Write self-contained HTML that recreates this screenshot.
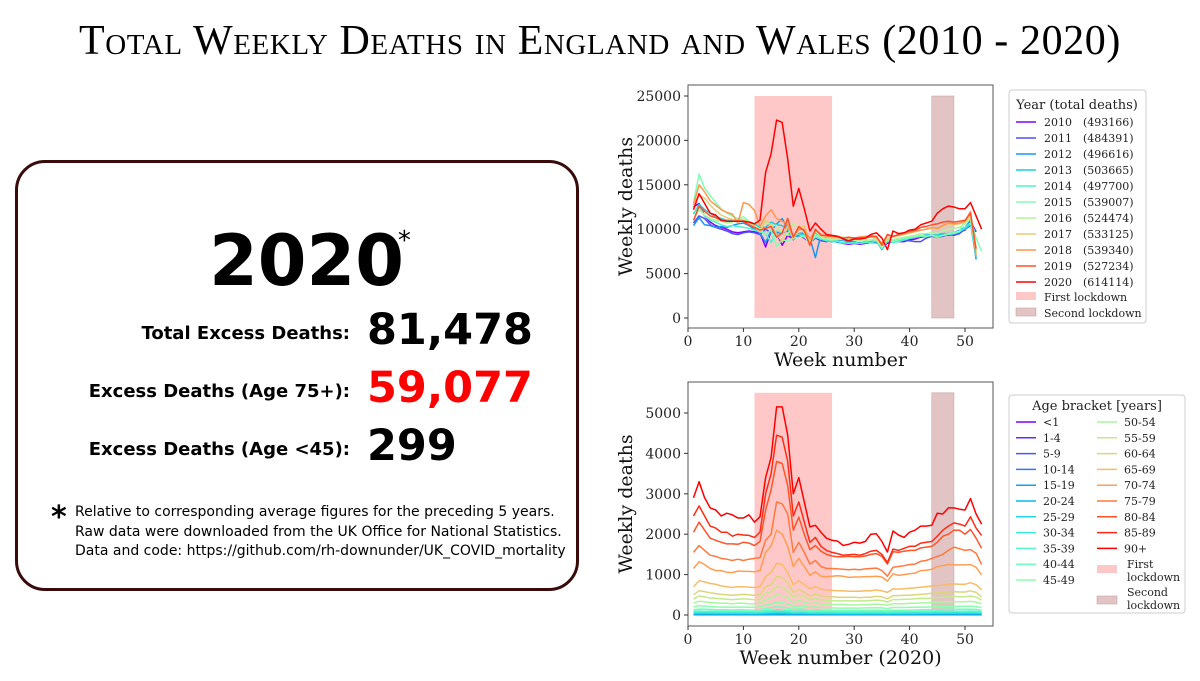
<!DOCTYPE html>
<html><head><meta charset="utf-8">
<style>
body{margin:0;background:#fff;}
#wrap{position:relative;width:1200px;height:681px;overflow:hidden;font-family:"DejaVu Sans","Liberation Sans",sans-serif;}
.title{position:absolute;left:0;top:17px;width:1200px;text-align:center;font-family:"Liberation Serif",serif;font-variant:small-caps;font-size:42px;letter-spacing:0.6px;color:#000;}
.box{position:absolute;left:15px;top:160px;width:558px;height:425px;border:3px solid #3a0b0b;border-radius:30px;}
.year{position:absolute;left:0;width:620px;text-align:center;top:220px;font-size:70px;font-weight:bold;}
.year sup{font-size:26px;font-weight:normal;vertical-align:top;position:relative;top:6px;margin-left:-6px;}
.lab{position:absolute;left:0;width:350px;text-align:right;font-size:18px;font-weight:bold;}
.num{position:absolute;left:367px;font-size:43px;font-weight:bold;}
.foot{position:absolute;left:75px;top:503px;font-size:14px;line-height:19.5px;}
.star{position:absolute;left:51px;top:500px;font-size:30px;font-weight:bold;}
svg text{font-family:"DejaVu Serif","Liberation Serif",serif;}
</style></head>
<body>
<div id="wrap">
<div class="title">Total Weekly Deaths in England and Wales (2010 - 2020)</div>
<div class="box"></div>
<div class="year">2020<sup>*</sup></div>
<div class="lab" style="top:323px">Total Excess Deaths:</div>
<div class="num" style="top:305px">81,478</div>
<div class="lab" style="top:381px">Excess Deaths (Age 75+):</div>
<div class="num" style="top:363px;color:#ff0000">59,077</div>
<div class="lab" style="top:439px">Excess Deaths (Age &lt;45):</div>
<div class="num" style="top:421px">299</div>
<div class="star">*</div>
<div class="foot">Relative to corresponding average figures for the preceding 5 years.<br>Raw data were downloaded from the UK Office for National Statistics.<br>Data and code: https://github.com/rh-downunder/UK_COVID_mortality</div>
<svg id="chart" width="1200" height="681" style="position:absolute;left:0;top:0"></svg>
</div>
<script>
// ---- top chart data (thousands of deaths per week)
const years = ["2010","2011","2012","2013","2014","2015","2016","2017","2018","2019","2020"];
const yearTotals = ["493166","484391","496616","503665","497700","539007","524474","533125","539340","527234","614114"];
const d2010=[12.5,12.9,11.5,10.8,10.4,10.2,10.0,9.7,9.6,9.7,9.8,9.7,9.6,8.0,9.8,9.5,8.2,9.3,8.9,9.3,9.0,8.5,9.0,8.8,8.7,8.8,8.6,8.4,8.3,8.4,8.3,8.4,8.5,8.5,8.1,8.4,8.6,8.6,8.6,8.8,8.9,9.1,9.2,9.3,9.2,9.4,9.3,9.5,9.7,9.9,10.9,9.7];
const d2011=[10.7,11.5,11.2,10.5,10.2,10.0,9.8,9.5,9.4,9.6,9.7,9.6,9.4,10.0,9.6,9.7,9.5,9.8,9.0,9.2,9.1,8.6,9.0,8.7,8.6,8.8,8.5,8.5,8.6,8.4,8.5,8.4,8.5,8.6,7.8,8.6,8.8,8.7,8.7,8.7,8.6,8.6,9.0,9.2,9.1,9.2,9.4,9.3,9.5,10.0,10.4,9.8];
const d2012=[10.4,11.3,10.5,10.4,10.2,10.3,10.2,10.4,10.6,10.7,10.4,10.0,9.6,8.5,9.8,10.6,11.2,10.0,8.8,9.5,9.6,9.0,6.8,9.4,9.0,8.8,8.7,8.8,8.7,8.6,8.4,8.5,8.6,8.7,7.7,8.8,8.7,8.8,8.9,9.0,9.1,9.2,9.3,9.3,9.2,9.4,9.5,9.6,9.9,10.2,11.0,6.6];
const d2013=[11.7,12.8,12.2,11.8,11.4,11.2,11.0,11.0,11.1,11.0,10.9,10.6,10.2,10.2,10.8,10.5,10.4,10.0,9.2,9.5,9.4,8.5,9.6,8.9,8.7,8.6,8.6,8.4,8.5,8.4,8.4,8.6,8.5,8.6,7.9,8.6,8.7,8.7,8.9,9.0,9.1,9.2,9.4,9.3,9.4,9.5,9.5,9.6,9.8,10.0,10.6,6.8];
const d2014=[11.8,12.6,11.5,11.0,10.8,10.5,10.3,10.4,10.3,10.2,10.1,9.9,9.7,9.5,8.5,9.8,9.6,9.3,9.4,9.4,9.1,8.6,9.1,8.9,8.7,8.7,8.6,8.5,8.4,8.5,8.4,8.5,8.5,8.7,7.8,8.7,8.5,8.6,8.8,9.0,9.1,9.2,9.2,9.3,9.2,9.3,9.4,9.5,9.7,10.2,10.7,7.5];
const d2015=[13.0,16.2,14.6,13.8,13.0,12.3,11.8,11.5,11.2,11.4,10.9,10.4,10.0,9.4,9.9,8.1,8.8,8.7,9.0,9.1,9.2,8.3,9.4,9.0,8.9,8.9,8.8,8.9,8.9,8.8,8.8,8.7,8.8,8.9,7.9,9.0,8.6,8.8,9.0,9.1,9.2,9.3,9.2,9.3,9.1,9.3,9.5,9.6,9.8,11.0,11.2,9.0,7.5];
const d2016=[11.0,12.2,11.6,11.2,11.0,10.9,10.7,10.8,11.2,11.1,10.9,10.4,9.9,10.8,10.5,10.4,9.6,9.4,10.7,10.2,9.6,8.4,9.8,9.1,8.9,8.8,8.9,9.0,9.0,8.8,8.7,8.8,8.8,8.8,8.0,8.8,8.8,9.0,9.1,9.2,9.3,9.5,9.5,9.6,9.5,9.8,10.0,10.1,10.2,10.6,11.2,7.3];
const d2017=[12.9,13.8,13.5,12.7,12.1,11.6,11.3,11.1,10.9,11.0,10.8,10.3,9.7,11.0,10.5,9.4,8.6,10.4,8.9,10.1,10.4,8.6,10.0,9.3,9.1,9.0,9.0,9.1,9.0,8.9,8.9,9.0,9.1,9.0,8.2,9.0,9.1,9.3,9.4,9.6,9.7,9.9,10.0,10.1,10.0,10.3,10.6,10.5,10.6,10.8,11.5,7.5];
const d2018=[12.7,15.0,14.2,13.2,12.7,12.2,11.9,11.7,10.7,13.0,12.8,12.1,10.3,11.5,12.2,11.2,10.9,10.5,9.2,10.0,10.0,8.9,9.9,9.4,9.2,9.2,9.1,9.0,9.1,9.0,9.1,9.2,9.2,9.1,8.4,9.3,9.2,9.3,9.5,9.6,9.8,9.9,10.0,10.2,10.1,10.4,10.7,10.6,10.7,10.9,12.0,7.0];
const d2019=[11.0,12.6,12.0,11.5,11.3,11.0,10.9,10.9,10.9,10.9,10.5,10.2,9.9,10.1,10.3,9.1,9.6,11.2,9.1,10.3,9.8,8.2,10.0,9.3,9.3,9.2,9.2,9.0,9.1,9.0,9.1,9.0,9.2,9.2,8.2,9.4,9.2,9.4,9.6,9.8,9.9,10.2,10.3,10.5,10.6,10.8,10.9,10.8,10.9,11.0,11.8,7.8];
const d2020=[12.2,14.0,12.9,11.8,11.6,11.0,10.9,10.9,10.9,10.9,10.8,10.6,11.0,16.4,18.5,22.3,22.0,17.9,12.6,14.6,12.3,9.8,10.7,10.0,9.4,9.3,9.2,8.9,8.7,8.9,8.9,9.0,9.4,9.6,9.0,7.7,9.8,9.5,9.6,9.9,10.0,10.5,10.7,10.9,11.8,12.3,12.6,12.5,12.3,12.3,13.0,11.5,10.0];
const yearSeries=[d2010,d2011,d2012,d2013,d2014,d2015,d2016,d2017,d2018,d2019,d2020];
const topYTicks=[0,5000,10000,15000,20000,25000];
const xTicks=[0,10,20,30,40,50];
const lockdown1=[12,26], lockdown2=[44,48];

// ---- bottom chart data (deaths per week, 2020)
const ageBrackets=["<1","1-4","5-9","10-14","15-19","20-24","25-29","30-34","35-39","40-44","45-49","50-54","55-59","60-64","65-69","70-74","75-79","80-84","85-89","90+"];
const aLt1=[55,58,56,55,54,54,53,53,54,53,53,52,53,52,50,51,50,50,50,51,50,49,50,49,49,49,48,48,48,48,48,48,49,50,48,46,49,49,49,50,50,50,50,51,51,52,52,52,52,52,53,51,49];
const a1=[9,10,9,9,9,9,9,8,9,9,8,8,9,9,9,10,10,9,9,9,8,8,8,8,8,8,8,8,8,8,8,8,8,9,8,8,9,9,9,9,9,9,9,9,9,9,9,9,9,9,10,9,9];
const a5=[5,5,5,5,5,5,5,5,4,5,5,5,5,5,5,5,5,5,5,5,5,4,5,4,4,4,4,4,4,4,4,4,4,5,4,4,5,5,5,5,5,5,5,5,5,5,5,5,5,5,5,5,5];
const a10=[6,7,6,6,6,6,6,6,6,6,6,6,6,6,7,7,7,6,6,6,6,6,6,6,5,5,5,5,5,5,5,5,5,6,5,5,6,6,6,6,6,6,6,6,6,6,6,6,6,6,7,6,6];
const a15=[16,18,17,17,16,16,16,16,16,16,16,16,16,17,18,19,19,18,16,17,16,15,16,15,15,15,15,15,15,15,15,15,15,16,15,14,16,16,16,16,16,16,16,17,17,17,17,17,17,17,18,17,16];
const a20=[28,31,30,29,28,28,28,27,28,28,27,27,28,31,33,36,35,33,29,30,29,27,28,27,26,26,26,26,26,26,26,26,26,27,26,24,27,27,27,28,28,28,28,29,29,30,30,30,30,30,31,30,27];
const a25=[42,46,44,43,42,41,41,40,41,41,40,40,41,48,51,56,55,50,43,46,43,39,41,39,38,38,37,37,37,37,37,38,38,39,38,35,40,40,40,40,40,41,41,42,43,44,44,44,44,44,46,44,40];
const a30=[60,66,64,62,60,59,59,58,59,59,58,58,59,70,75,84,82,74,62,66,62,56,60,56,54,54,53,53,53,53,53,54,54,56,54,50,57,57,57,58,58,59,59,60,62,63,64,64,64,64,66,63,57];
const a35=[90,100,95,92,90,88,88,86,88,88,86,86,88,105,112,128,125,110,92,100,92,82,88,82,80,80,78,78,78,78,78,80,80,82,80,74,84,84,84,86,86,88,88,90,92,94,96,96,96,96,98,94,84];
const a40=[130,145,140,135,130,128,128,125,128,128,125,125,128,160,175,200,195,170,135,150,135,120,130,120,115,115,112,112,112,112,112,115,115,118,115,105,120,120,120,125,125,128,128,130,132,135,140,140,140,140,142,135,120];
const a45=[200,230,220,210,200,195,195,190,195,195,190,190,195,250,270,320,310,270,210,230,210,185,200,185,175,175,170,170,170,170,170,175,175,180,175,160,185,185,185,190,190,195,195,200,205,210,215,215,215,215,220,210,185];
const a50=[300,340,330,310,300,290,290,280,290,290,280,280,290,380,420,500,480,420,320,360,320,280,300,280,260,260,260,260,250,250,250,260,260,270,260,240,280,280,280,290,290,300,300,310,320,320,330,330,330,330,340,320,280];
const a55=[400,470,450,420,410,400,390,380,390,400,390,380,390,530,580,700,680,600,450,490,440,380,410,380,360,360,350,350,350,350,350,350,360,370,360,320,380,380,390,390,400,410,410,420,430,440,450,460,450,450,470,440,370];
const a60=[500,600,580,550,530,510,500,490,500,510,500,490,500,700,750,950,930,800,560,640,560,470,520,480,450,450,440,440,440,440,430,440,440,460,450,400,480,480,490,490,500,510,520,540,550,560,570,580,570,570,600,560,450];
const a65=[700,850,820,780,760,720,700,680,700,700,690,680,700,950,1050,1280,1250,1050,750,850,750,650,700,640,620,610,600,600,590,590,590,600,600,620,600,560,650,640,650,660,670,690,700,720,730,740,760,770,760,760,800,750,620];
const a70=[1150,1320,1250,1150,1100,1100,1060,1050,1090,1080,1080,1070,1100,1550,1700,2100,2000,1700,1200,1400,1200,980,1070,960,950,960,970,960,930,940,940,950,950,960,940,840,1020,980,1000,1020,1040,1100,1110,1130,1200,1220,1250,1240,1240,1240,1250,1180,990];
const a75=[1550,1720,1600,1480,1450,1400,1380,1350,1380,1350,1380,1400,1420,1850,2000,2800,2750,2500,1550,1800,1550,1260,1350,1200,1150,1150,1140,1130,1120,1130,1120,1140,1150,1160,1100,960,1180,1200,1220,1250,1260,1330,1350,1400,1450,1500,1600,1680,1640,1600,1620,1530,1250];
const a80=[2050,2300,2100,1900,1850,1800,1760,1760,1750,1800,1780,1720,1820,2600,3100,3800,3750,3200,2100,2420,2000,1620,1720,1580,1500,1460,1440,1440,1450,1440,1440,1460,1500,1520,1450,1260,1570,1550,1580,1600,1600,1660,1680,1700,1800,1950,2000,2100,2100,2000,2120,1900,1650];
const a85=[2450,2700,2450,2200,2150,2050,2050,1950,2000,1980,1970,1920,2050,3000,3500,4450,4400,3800,2450,2800,2300,1800,1920,1700,1600,1550,1520,1480,1490,1500,1480,1520,1580,1600,1500,1300,1630,1600,1650,1700,1700,1780,1800,1820,1950,2100,2200,2280,2250,2200,2430,2150,1970];
const a90=[2900,3300,2900,2650,2600,2450,2520,2480,2400,2400,2480,2300,2430,3400,3900,5150,5150,4450,3000,3400,2800,2180,2220,2050,1900,1850,1830,1720,1750,1800,1780,1820,2000,2010,1820,1560,2080,1980,1920,2050,2100,2200,2200,2220,2520,2500,2650,2650,2620,2600,2880,2500,2250];
const ageSeries=[aLt1,a1,a5,a10,a15,a20,a25,a30,a35,a40,a45,a50,a55,a60,a65,a70,a75,a80,a85,a90];
const botYTicks=[0,1000,2000,3000,4000,5000];

const NS="http://www.w3.org/2000/svg";
const svg=document.getElementById('chart');
function mk(tag,attrs,parent){const e=document.createElementNS(NS,tag);for(const k in attrs)e.setAttribute(k,attrs[k]);(parent||svg).appendChild(e);return e;}
function rainbow(x){const r=Math.min(1,Math.abs(2*x-0.5)),g=Math.sin(x*Math.PI),b=Math.cos(x*Math.PI/2);return `rgb(${Math.round(r*255)},${Math.round(g*255)},${Math.round(Math.max(0,b)*255)})`;}

function drawPanel(o){
  const X=w=>o.x0+w*o.xs, Y=v=>o.y0-v*o.ys;
  const g=mk('g',{});
  
  
  const s1=mk('rect',{x:X(lockdown1[0]),y:Y(o.spanTop),width:X(lockdown1[1])-X(lockdown1[0]),height:Y(0)-Y(o.spanTop),fill:'#ffc8c8'},g);
  
  
  const s2=mk('rect',{x:X(lockdown2[0]),y:Y(o.spanTop),width:X(lockdown2[1])-X(lockdown2[0]),height:Y(0)-Y(o.spanTop),fill:'#e2c4c4',stroke:'#c9a6a6','stroke-width':0.6},g);
  
  
  o.series.forEach((arr,i)=>{
    const pts=arr.map((v,k)=>X(k+1).toFixed(1)+','+Y(v*o.mult).toFixed(1)).join(' ');
    const p=mk('polyline',{points:pts,fill:'none',stroke:rainbow(i/(o.series.length-1)),'stroke-width':1.5,'stroke-linejoin':'round'},g);
    
    
  });
  const fr=mk('rect',{x:o.fx0,y:o.fy0,width:o.fx1-o.fx0,height:o.fy1-o.fy0,fill:'none',stroke:'#555','stroke-width':1},g);
  
  
  o.yTicks.forEach(t=>{
    mk('line',{x1:o.fx0-4,x2:o.fx0,y1:Y(t),y2:Y(t),stroke:'#333'},g);
    const tx=mk('text',{x:o.fx0-7,y:Y(t)+5,'text-anchor':'end','font-size':14,fill:'#222'},g);
    tx.textContent=t;
    
    
  });
  xTicks.forEach(t=>{
    mk('line',{x1:X(t),x2:X(t),y1:o.fy1,y2:o.fy1+4,stroke:'#333'},g);
    const tx=mk('text',{x:X(t),y:o.fy1+18,'text-anchor':'middle','font-size':14,fill:'#222'},g);
    tx.textContent=t;
    
    
  });
  const yl=mk('text',{x:0,y:0,transform:`translate(${o.fx0-56},${(o.fy0+o.fy1)/2}) rotate(-90)`,'text-anchor':'middle','font-size':19,fill:'#111'},g);
  yl.textContent='Weekly deaths';
  
  
  const xl=mk('text',{x:(o.fx0+o.fx1)/2,y:o.fy1+38,'text-anchor':'middle','font-size':19,fill:'#111'},g);
  xl.textContent=o.xTitle;
  
  
}

drawPanel({name:'yearly-chart',x0:688,xs:5.54,y0:318,ys:222/25000,mult:1000,spanTop:25000,series:yearSeries,labels:years,lineName:'line',
  fx0:688,fx1:993,fy0:85,fy1:328,yTicks:topYTicks,xTitle:'Week number'});
drawPanel({name:'age-chart',x0:688,xs:5.54,y0:615,ys:202/5000,mult:1,spanTop:5500,series:ageSeries,labels:ageBrackets,lineName:'age-line',
  fx0:688,fx1:993,fy0:382,fy1:626,yTicks:botYTicks,xTitle:'Week number (2020)'});

// legends
function legendBox(x,y,w,h,name){const r=mk('rect',{x:x,y:y,width:w,height:h,rx:3,fill:'#fff',stroke:'#ccc'});}
function txt(x,y,s,size,anchor,name){const t=mk('text',{x:x,y:y,'font-size':size,fill:'#222','text-anchor':anchor||'start'});t.textContent=s;return t;}
legendBox(1009,90,137,233,'year-legend');
txt(1077,109,'Year (total deaths)',13,'middle','year-legend-title');
years.forEach((yv,i)=>{
  const yy=122+i*16;
  mk('line',{x1:1016,x2:1036,y1:yy,y2:yy,stroke:rainbow(i/10),'stroke-width':1.5});
  txt(1044,yy+4,yv,11,'start','year-legend-entry');
  txt(1083,yy+4,'('+yearTotals[i]+')',11,'start','year-legend-total');
});
mk('rect',{x:1016,y:292,width:20,height:8,fill:'#ffc8c8'});
txt(1044,301,'First lockdown',11,'start','legend-first-lockdown');
mk('rect',{x:1016,y:308,width:20,height:8,fill:'#e2c4c4',stroke:'#c9a6a6','stroke-width':0.6});
txt(1044,317,'Second lockdown',11,'start','legend-second-lockdown');

legendBox(1009,395,176,218,'age-legend');
txt(1097,410,'Age bracket [years]',13,'middle','age-legend-title');
ageBrackets.forEach((a,i)=>{
  const col=i<11?0:1, row=i<11?i:i-11;
  const yy=422+row*15.8;
  const lx=col?1097:1016;
  mk('line',{x1:lx,x2:lx+20,y1:yy,y2:yy,stroke:rainbow(i/19),'stroke-width':1.5});
  txt(lx+27,yy+4,a,11,'start','age-legend-entry');
});
mk('rect',{x:1097,y:565,width:20,height:8,fill:'#ffc8c8'});
txt(1127,568,'First',11,'start','legend-first-lockdown');
txt(1127,581,'lockdown',11,'start','legend-first-lockdown-2');
mk('rect',{x:1097,y:596,width:20,height:8,fill:'#e2c4c4',stroke:'#c9a6a6','stroke-width':0.6});
txt(1127,596,'Second',11,'start','legend-second-lockdown');
txt(1127,609,'lockdown',11,'start','legend-second-lockdown-2');
</script>
</body></html>
